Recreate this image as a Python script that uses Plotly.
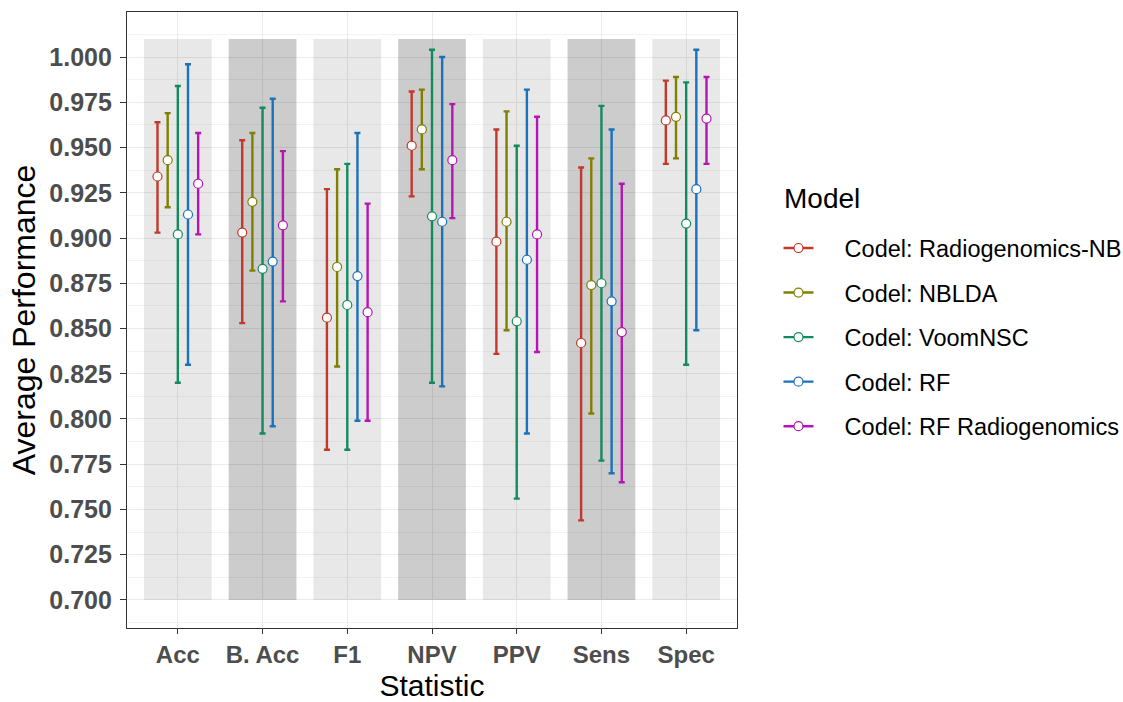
import numpy as np
import plotly.graph_objects as go

# Statistics on the x axis
STATISTICS = ["Acc", "B. Acc", "F1", "NPV", "PPV", "Sens", "Spec"]

# Model names
MODELS = [
    "Codel: Radiogenomics-NB",
    "Codel: NBLDA",
    "Codel: VoomNSC",
    "Codel: RF",
    "Codel: RF Radiogenomics",
]

# Mean / lower / upper per model, in the order of STATISTICS
RNB_MEAN = [0.934, 0.903, 0.856, 0.951, 0.898, 0.842, 0.965]
RNB_LO = [0.903, 0.853, 0.783, 0.923, 0.836, 0.744, 0.941]
RNB_HI = [0.964, 0.954, 0.927, 0.981, 0.960, 0.939, 0.987]

NBLDA_MEAN = [0.943, 0.920, 0.884, 0.960, 0.909, 0.874, 0.967]
NBLDA_LO = [0.917, 0.882, 0.829, 0.938, 0.849, 0.803, 0.944]
NBLDA_HI = [0.969, 0.958, 0.938, 0.982, 0.970, 0.944, 0.989]

VOOM_MEAN = [0.902, 0.883, 0.863, 0.912, 0.854, 0.875, 0.908]
VOOM_LO = [0.820, 0.792, 0.783, 0.820, 0.756, 0.777, 0.830]
VOOM_HI = [0.984, 0.972, 0.941, 1.004, 0.951, 0.973, 0.986]

RF_MEAN = [0.913, 0.887, 0.879, 0.909, 0.888, 0.865, 0.927]
RF_LO = [0.830, 0.796, 0.799, 0.818, 0.792, 0.770, 0.849]
RF_HI = [0.996, 0.977, 0.958, 1.000, 0.982, 0.960, 1.004]

RFR_MEAN = [0.930, 0.907, 0.859, 0.943, 0.902, 0.848, 0.966]
RFR_LO = [0.902, 0.865, 0.799, 0.911, 0.837, 0.765, 0.941]
RFR_HI = [0.958, 0.948, 0.919, 0.974, 0.967, 0.930, 0.989]

Y_TICKS = [0.700, 0.725, 0.750, 0.775, 0.800, 0.825, 0.850, 0.875,
           0.900, 0.925, 0.950, 0.975, 1.000]

COLORS = ["#C0392B", "#7F7F00", "#138A5E", "#1A72BA", "#B515B5"]
DODGE = [-0.24, -0.12, 0.0, 0.12, 0.24]

series = [
    (RNB_MEAN, RNB_LO, RNB_HI),
    (NBLDA_MEAN, NBLDA_LO, NBLDA_HI),
    (VOOM_MEAN, VOOM_LO, VOOM_HI),
    (RF_MEAN, RF_LO, RF_HI),
    (RFR_MEAN, RFR_LO, RFR_HI),
]

FONT = "Liberation Sans, Arial, sans-serif"
pos = np.arange(1, len(STATISTICS) + 1)

fig = go.Figure()

for name, color, off, (mean, lo, hi) in zip(MODELS, COLORS, DODGE, series):
    mean = np.array(mean)
    lo = np.array(lo)
    hi = np.array(hi)
    fig.add_trace(go.Scatter(
        x=pos + off, y=mean, mode="markers", name=name, showlegend=False,
        marker=dict(symbol="circle", size=9, color="white",
                    line=dict(color=color, width=1.2)),
        error_y=dict(type="data", symmetric=False, array=hi - mean,
                     arrayminus=mean - lo, color=color, thickness=2.4, width=3),
    ))

# legend keys: line with an open circle
for name, color in zip(MODELS, COLORS):
    fig.add_trace(go.Scatter(
        x=[None], y=[None], mode="lines+markers",
        name="\u00a0\u00a0\u00a0\u00a0" + name,
        legendgroup=name,
        line=dict(color=color, width=2.4),
        marker=dict(symbol="circle", size=9, color="white",
                    line=dict(color=color, width=1.2)),
    ))

# alternating background bands behind each statistic
shapes = []
for i, p in enumerate(pos):
    fill = "rgba(0,0,0,0.09)" if i % 2 == 0 else "rgba(0,0,0,0.20)"
    shapes.append(dict(type="rect", xref="x", yref="y", x0=p - 0.4, x1=p + 0.4,
                       y0=0.700, y1=1.010, fillcolor=fill, line=dict(width=0),
                       layer="between"))

fig.update_layout(
    width=1123, height=702,
    margin=dict(l=127, r=386, t=12, b=74, autoexpand=False),
    paper_bgcolor="white", plot_bgcolor="white",
    font=dict(family=FONT, color="black"),
    shapes=shapes,
    showlegend=True,
    legend=dict(
        font=dict(size=23.5, color="black"),
        x=1.068, xanchor="left", y=0.472, yanchor="middle",
        tracegroupgap=11, bgcolor="rgba(0,0,0,0)",
    ),
    annotations=[dict(
        text="Model", xref="paper", yref="paper", x=1.073, y=0.697,
        xanchor="left", yanchor="middle", showarrow=False,
        font=dict(size=28, color="black"),
    )],
    xaxis=dict(
        range=[0.4, 7.6], tickmode="array", tickvals=pos,
        ticktext=["<b>%s</b>" % s for s in STATISTICS],
        tickfont=dict(size=24, color="#4D4D4D"),
        showgrid=True, gridcolor="#EBEBEB", gridwidth=1.2, zeroline=False,
        showline=True, linecolor="#333333", linewidth=1.2, mirror=True,
        ticks="outside", ticklen=5, tickcolor="#333333", automargin=False,
        title=dict(text="Statistic", font=dict(size=30, color="black"), standoff=10),
    ),
    yaxis=dict(
        range=[0.6845, 1.0249], tickmode="array", tickvals=Y_TICKS,
        ticktext=["<b>%.3f</b>" % v for v in Y_TICKS],
        tickfont=dict(size=25, color="#4D4D4D"),
        showgrid=True, gridcolor="#EBEBEB", gridwidth=1.2, zeroline=False,
        minor=dict(dtick=0.0125, tick0=0.6875, showgrid=True,
                   gridcolor="#F2F2F2", gridwidth=0.6),
        showline=True, linecolor="#333333", linewidth=1.2, mirror=True,
        ticks="outside", ticklen=6, tickcolor="#333333", automargin=False,
        ticklabelstandoff=3,
        title=dict(text="Average Performance", font=dict(size=32, color="black"),
                   standoff=4),
    ),
)

fig.write_html("out.html")
